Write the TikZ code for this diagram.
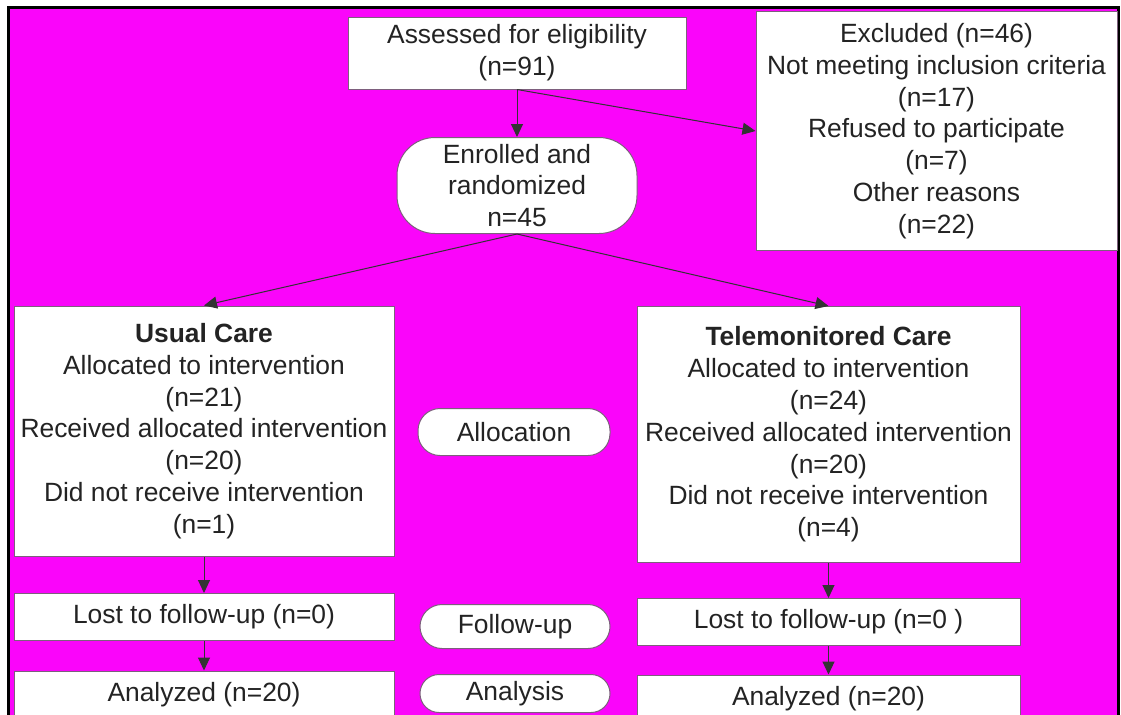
\documentclass[tikz,border=0pt]{standalone}
\usepackage{fontspec}
\setmainfont{Liberation Sans}
\usetikzlibrary{arrows.meta}

\definecolor{pinkbg}{RGB}{250,5,250}
\definecolor{boxline}{RGB}{125,95,125}
\definecolor{inktext}{RGB}{35,35,35}

\begin{document}
\begin{tikzpicture}[x=0.5pt,y=-0.5pt,
  every node/.style={font=\fontsize{13.2}{15.9}\selectfont,text=inktext,align=center,inner sep=0pt},
  box/.style={draw=boxline,fill=white,line width=0.5pt,minimum height=23.5pt},
  pill/.style={box,rounded corners=11pt},
  link/.style={->,draw=black!80,line width=0.5pt},
  >={Triangle[length=6.5pt,width=6pt]}]
  \useasboundingbox (0,0) rectangle (1121,714);
  \fill[white] (0,0) rectangle (1121,714);
  \draw[line width=1.5pt,fill=pinkbg] (8,7) rectangle (1118,740);
  % top part
  \node[box,minimum width=169pt,minimum height=36pt] (assess) at (517,53) {Assessed for eligibility\\(n=91)};
  \node[box,minimum width=180.5pt,minimum height=119.5pt] (excl) at (936.5,131) {Excluded (n=46)\\Not meeting inclusion criteria\\(n=17)\\Refused to participate\\(n=7)\\Other reasons\\(n=22)};
  \node[box,rounded corners=19pt,minimum width=120pt,minimum height=48pt] (enrol) at (517,185.5) {Enrolled and\\randomized\\n=45};
  % arms
  \node[box,minimum width=190pt,minimum height=125pt] (usual) at (204,431) {\textbf{Usual Care}\\Allocated to intervention\\(n=21)\\Received allocated intervention\\(n=20)\\Did not receive intervention\\(n=1)};
  \node[box,minimum width=191.5pt,minimum height=128pt] (telem) at (828.5,434.5) {\textbf{Telemonitored Care}\\Allocated to intervention\\(n=24)\\Received allocated intervention\\(n=20)\\Did not receive intervention\\(n=4)};
  \node[box,minimum width=190pt] (lostU) at (204,617) {Lost to follow-up (n=0)};
  \node[box,minimum width=190pt] (analU) at (204,694.5) {Analyzed (n=20)};
  \node[box,minimum width=191.5pt] (lostT) at (828.5,622) {Lost to follow-up (n=0 )};
  \node[box,minimum width=191.5pt] (analT) at (828.5,698.5) {Analyzed (n=20)};
  % stage labels
  \node[pill,minimum width=96pt] (alloc) at (514,432) {Allocation};
  \node[pill,minimum width=95pt,minimum height=22pt] (follow) at (515,626.5) {Follow-up};
  \node[pill,minimum width=95pt,minimum height=19pt,rounded corners=9.5pt] (analysis) at (515,693.5) {Analysis};
  \draw[link] (assess.south) -- (enrol.north);
  \draw[link] (assess.south) -- (excl.west);
  \draw[link] (enrol.south) -- (usual.north);
  \draw[link] (enrol.south) -- (telem.north);
  \draw[link] (usual.south) -- (lostU.north);
  \draw[link] (lostU.south) -- (analU.north);
  \draw[link] (telem.south) -- (lostT.north);
  \draw[link] (lostT.south) -- (analT.north);
\end{tikzpicture}
\end{document}
